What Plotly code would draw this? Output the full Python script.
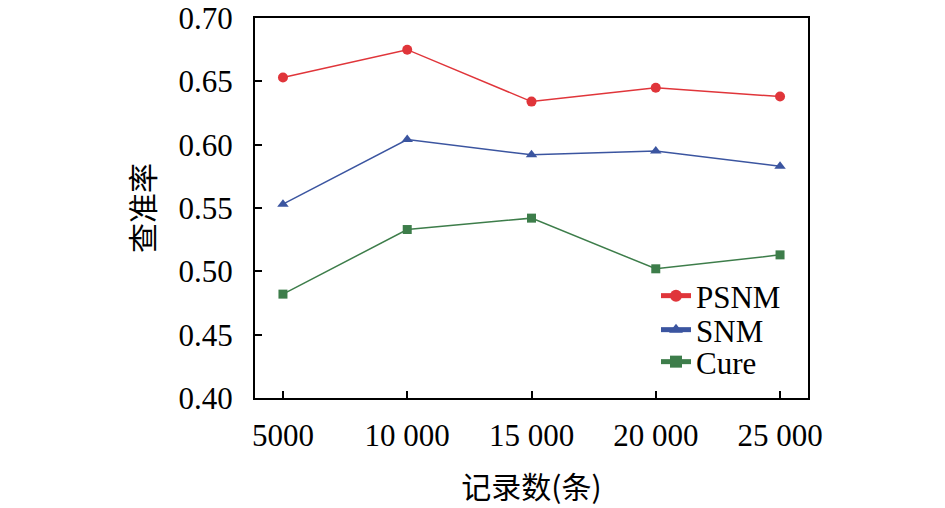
import plotly.graph_objects as go

categories = ["5000", "10 000", "15 000", "20 000", "25 000"]
psnm = [0.653, 0.675, 0.634, 0.645, 0.638]
snm = [0.553, 0.604, 0.592, 0.595, 0.583]
cure = [0.482, 0.533, 0.542, 0.502, 0.513]
y_ticks = [0.40, 0.45, 0.50, 0.55, 0.60, 0.65, 0.70]
y_ticktext = ["0.40", "0.45", "0.50", "0.55", "0.60", "0.65", "0.70"]

xs = list(range(len(categories)))
font_family = "Liberation Serif, Times New Roman, serif"
cjk_family = "Noto Sans CJK SC, sans-serif"

fig = go.Figure()
series = [
    ("PSNM", psnm, "#e0353a", "circle", "legend"),
    ("SNM", snm, "#3b55a0", "triangle-up", "legend2"),
    ("Cure", cure, "#3d7d4a", "square", "legend3"),
]
for name, vals, color, sym, lg in series:
    fig.add_trace(go.Scatter(
        x=xs, y=vals, name=name, mode="lines+markers",
        line=dict(color=color, width=1.5),
        marker=dict(color=color, symbol=sym, size=10 if sym != "square" else 9),
        legend=lg,
    ))

leg_common = dict(
    xanchor="left", yanchor="middle",
    bgcolor="rgba(0,0,0,0)", font=dict(size=31, family=font_family, color="black"),
    itemsizing="constant", borderwidth=0,
)
# plot area on page: left 255, right 808, top 18, bottom 398
leg_x = (656 - 255) / 553
def ypos(py):
    return (398 - py) / 380

fig.update_layout(
    width=945, height=508,
    margin=dict(l=255, r=137, t=18, b=110, autoexpand=False),
    paper_bgcolor="white", plot_bgcolor="white",
    font=dict(family=font_family, size=31, color="black"),
    showlegend=True,
    legend=dict(x=leg_x, y=ypos(296), **leg_common),
    legend2=dict(x=leg_x, y=ypos(330), **leg_common),
    legend3=dict(x=leg_x, y=ypos(362), **leg_common),
    xaxis=dict(
        range=[-0.225, 4.225], automargin=False,
        tickmode="array", tickvals=xs, ticktext=categories,
        ticks="inside", ticklen=7, tickwidth=1.5, tickcolor="black",
        showline=True, linecolor="black", linewidth=2, mirror=True,
        showgrid=False, zeroline=False,
        ticklabelstandoff=9, ticklabeloverflow="allow",
        title=dict(text="记录数(条)", font=dict(family=cjk_family, size=30, color="black"), standoff=25),
    ),
    yaxis=dict(
        range=[0.40, 0.70], automargin=False,
        tickmode="array", tickvals=y_ticks, ticktext=y_ticktext,
        ticks="inside", ticklen=7, tickwidth=1.5, tickcolor="black",
        showline=True, linecolor="black", linewidth=2, mirror=True,
        showgrid=False, zeroline=False,
        ticklabelstandoff=14, ticklabeloverflow="allow",
        title=dict(text="查准率", font=dict(family=cjk_family, size=30, color="black"), standoff=15),
    ),
)

fig.write_html(
    "out.html",
    config={"displayModeBar": False},
    post_script="document.body.style.margin='0';document.body.style.overflow='hidden';",
)
